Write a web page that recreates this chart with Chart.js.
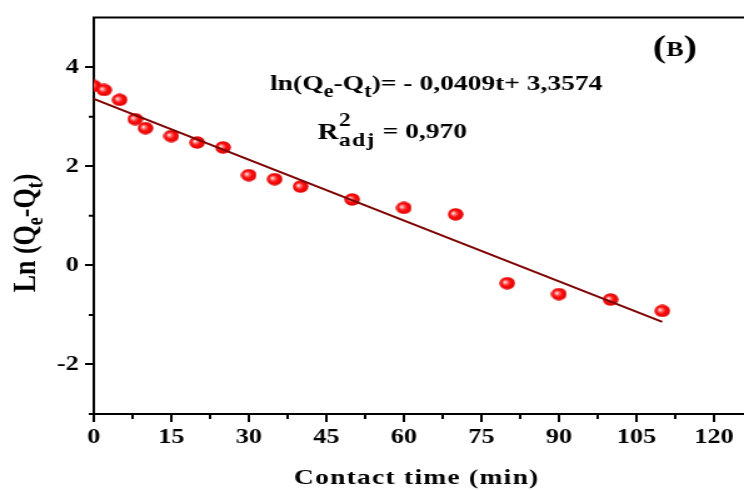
<!DOCTYPE html>
<html>
<head>
<meta charset="utf-8">
<script src="https://cdn.jsdelivr.net/npm/chart.js@4"></script>
<style>
  html, body { margin: 0; padding: 0; background: #fff; }
  /* the reference is stretched ~1.25x horizontally, so draw narrow and stretch */
  #chart { width: 744px !important; height: 490px !important; display: block; }
</style>
</head>
<body>
<canvas id="chart" width="595" height="490" style="width:744px;height:490px"></canvas>
<script>
/* ── Data ──────────────────────────────────────────────────────────────── */
const timeMin = [0, 2, 5, 8, 10, 15, 20, 25, 30, 35, 40, 50, 60, 70, 80, 90, 100, 110];
const lnQ     = [3.62, 3.54, 3.34, 2.95, 2.77, 2.61, 2.48, 2.38, 1.82, 1.74, 1.59,
                 1.33, 1.16, 1.03, -0.36, -0.58, -0.69, -0.92];

// fitted line end points
const fitX = [0, 110];
const fitY = [3.36, -1.14];

const xTicks      = [0, 15, 30, 45, 60, 75, 90, 105, 120];
const xMinorTicks = [7.5, 22.5, 37.5, 52.5, 67.5, 82.5, 97.5, 112.5];
const yTicks      = [-2, 0, 2, 4];
const yMinorTicks = [-3, -1, 1, 3];

const SERIF = "'Liberation Serif', 'Times New Roman', serif";

/* ── Shiny red ball marker ─────────────────────────────────────────────── */
function makeBall(d) {
  const c = document.createElement('canvas');
  c.width = d; c.height = d;
  const g = c.getContext('2d');
  const r = d / 2;
  const grad = g.createRadialGradient(r - 2, r - 1.2, 0.3, r, r, r);
  grad.addColorStop(0,    '#fff4f4');
  grad.addColorStop(0.22, '#ff7878');
  grad.addColorStop(0.5,  '#ff1010');
  grad.addColorStop(1,    '#da0000');
  g.fillStyle = grad;
  g.beginPath();
  g.arc(r, r, r - 0.3, 0, Math.PI * 2);
  g.fill();
  return c;
}

/* ── Text with sub/superscripts: parts = [text, size, dy] ─────────────── */
function richWidth(ctx, parts) {
  let w = 0;
  parts.forEach(([t, s]) => { ctx.font = `bold ${s}px ${SERIF}`; w += ctx.measureText(t).width; });
  return w;
}
function drawRich(ctx, x, y, parts) {
  ctx.textBaseline = 'alphabetic';
  ctx.textAlign = 'left';
  parts.forEach(([t, s, dy]) => {
    ctx.font = `bold ${s}px ${SERIF}`;
    ctx.fillText(t, x, y + dy);
    x += ctx.measureText(t).width;
  });
  return x;
}

/* ── Extra drawing: frame top, minor ticks, titles, equation ───────────── */
const decor = {
  id: 'decor',
  afterDraw(chart) {
    const ctx = chart.ctx;
    const { left, right, top, bottom } = chart.chartArea;
    const xs = chart.scales.x, ys = chart.scales.y;
    ctx.save();
    ctx.strokeStyle = '#000';
    ctx.fillStyle = '#000';
    ctx.lineWidth = 2;

    // top frame line, and bottom axis carried to the edge
    ctx.beginPath();
    ctx.moveTo(left - 1, top);
    ctx.lineTo(chart.width, top);
    ctx.moveTo(right - 1, bottom);
    ctx.lineTo(chart.width, bottom);
    ctx.stroke();

    // minor ticks
    ctx.beginPath();
    xMinorTicks.forEach(v => {
      const px = xs.getPixelForValue(v);
      ctx.moveTo(px, bottom); ctx.lineTo(px, bottom + 5);
    });
    yMinorTicks.forEach(v => {
      const py = ys.getPixelForValue(v);
      ctx.moveTo(left, py); ctx.lineTo(left - 4, py);
    });
    ctx.stroke();

    // x title
    ctx.letterSpacing = '1px';
    ctx.font = `bold 22px ${SERIF}`;
    ctx.textAlign = 'center';
    ctx.fillText('Contact time (min)', (left + right) / 2 + 2, 484);
    ctx.letterSpacing = '0px';

    // y title (rotated)
    const yt = [['Ln (Q', 26, 0], ['e', 18, 6], ['-Q', 26, 0], ['t', 18, 6], [')', 26, 0]];
    ctx.save();
    ctx.translate(28, 233);
    ctx.rotate(-Math.PI / 2);
    drawRich(ctx, -richWidth(ctx, yt) / 2, 0, yt);
    ctx.restore();

    // equation
    drawRich(ctx, 216, 90, [
      ['ln(Q', 22, 0], ['e', 18, 7], ['-Q', 22, 0], ['t', 18, 7],
      [')= - 0,0409t+ 3,3574', 22, 0]
    ]);
    // R²adj
    drawRich(ctx, 254, 139, [['R', 23, 0]]);
    ctx.letterSpacing = '1px';
    ctx.font = `bold 19px ${SERIF}`;
    ctx.fillText('2', 271, 126);
    ctx.fillText('adj', 271, 146);
    ctx.letterSpacing = '0px';
    drawRich(ctx, 306, 138, [['= 0,970', 22, 0]]);

    // panel label (B)
    drawRich(ctx, 522, 57, [['(', 32, 0], ['B', 21, -1], [')', 32, 0]]);

    ctx.restore();
  }
};

/* ── Chart ─────────────────────────────────────────────────────────────── */
const tickFont = { family: SERIF, size: 21, weight: 'bold' };

new Chart(document.getElementById('chart').getContext('2d'), {
  type: 'scatter',
  data: {
    datasets: [
      {
        label: 'fit',
        data: fitX.map((v, i) => ({ x: v, y: fitY[i] })),
        showLine: true,
        borderColor: '#7d0000',
        borderWidth: 2,
        pointRadius: 0,
        order: 0,
      },
      {
        label: 'ln(Qe-Qt)',
        data: timeMin.map((v, i) => ({ x: v, y: lnQ[i] })),
        pointStyle: makeBall(13),
        pointRadius: 6.5,
        clip: 0,
        order: 1,
      }
    ]
  },
  options: {
    responsive: false,
    animation: false,
    layout: { padding: { top: 10, left: 0, right: 0, bottom: 0 } },
    plugins: { legend: { display: false }, tooltip: { enabled: false } },
    scales: {
      x: {
        type: 'linear',
        min: 0, max: 124,
        afterBuildTicks: s => { s.ticks = xTicks.map(v => ({ value: v })); },
        afterFit: s => { s.height = 76; },
        ticks: { font: tickFont, color: '#000', padding: 3, maxRotation: 0, autoSkip: false },
        grid: { drawOnChartArea: false, tickLength: 8, lineWidth: 2, color: '#000' },
        border: { width: 2, color: '#000' }
      },
      y: {
        min: -3, max: 5,
        afterBuildTicks: s => { s.ticks = yTicks.map(v => ({ value: v })); },
        afterFit: s => { s.width = 75; },
        ticks: { font: tickFont, color: '#000', padding: 5 },
        grid: { drawOnChartArea: false, tickLength: 7, lineWidth: 2, color: '#000' },
        border: { width: 2, color: '#000' }
      }
    }
  },
  plugins: [decor]
});
</script>
</body>
</html>
